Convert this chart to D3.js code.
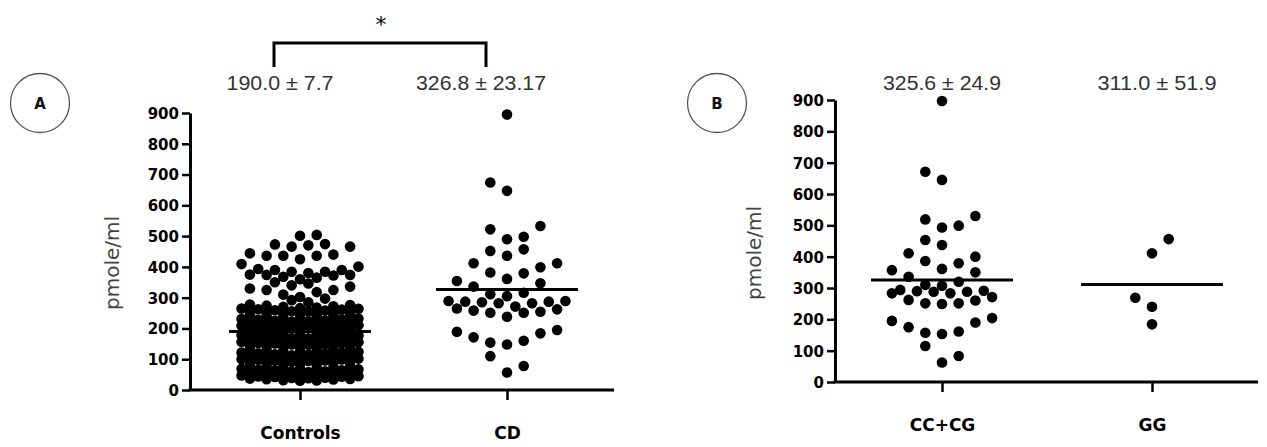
<!DOCTYPE html>
<html><head><meta charset="utf-8">
<script src="https://cdn.jsdelivr.net/npm/d3@7"></script>
<style>
html,body{margin:0;padding:0;background:#fff;}
svg{display:block;}
</style></head>
<body>
<svg id="chart" width="1267" height="447"></svg>
<script>
// ---------------- DATA ----------------
const categoriesA = ["Controls", "CD"];
const categoriesB = ["CC+CG", "GG"];
const yTicks = [0, 100, 200, 300, 400, 500, 600, 700, 800, 900];

const controls = [
  30,31,32,34,35,36,37, 38,39,40,42,43,44,45,47, 48,49,51,52,54,55,57,
  58,60,61,63,64,66,67,69, 70,72,73,75,77,79,81,
  84,85,86,88,89,90,91, 92,94,95,96,98,99,100,102, 103,105,106,108,109,111,112,
  113,115,116,118,119,121,122,124, 125,127,128,130,132,134,136,
  138,139,140,142,143,144,145, 147,148,149,151,152,153,155,156, 157,159,160,162,163,165,166,
  168,169,171,172,174,175,177,178, 180,181,183,185,187,189,190,
  192,193,194,196,197,198,199, 201,202,203,205,206,207,209,210, 211,213,214,216,217,219,220,
  222,223,225,226,228,229,231,232, 234,235,237,239,241,243,244,
  246,247,248,249,251,252,254, 255,256,258,259,261,262,264,265, 266,268,270,272,274,276,278,
  285,292,297,
  302,310,318,325,325,330,336,340,346,350,
  360,365,368,372,374,374,375,380,384,384,390,390,393,401,409,
  425,436,436,436,440,444,466,466,470,473,474,
  501,504
];
const cd = [895,674,647,522,533,490,498,452,457,436,412,412,399,382,379,361,354,347,336,
  311,305,316,289,289,285,282,271,282,287,287,265,258,251,238,251,254,262,
  189,171,154,148,160,184,195,110,78,57];
const ccg = [897,671,645,519,530,493,499,453,437,411,400,386,379,361,357,350,336,310,307,320,
  283,291,288,288,283,290,294,271,262,251,249,251,260,195,175,157,153,161,190,204,115,83,62];
const gg = [456,411,269,240,184];

const meansA = [190.0, 326.8];
const semA = ["7.7", "23.17"];
const meansB = [325.6, 311.0];
const semB = ["24.9", "51.9"];

// ---------------- LAYOUT ----------------
const svg = d3.select("#chart");
const SLOT = 16.7;   // horizontal spacing of scatter columns (px)
const BIN = 54;      // value height of one scatter row band
const R = 5.3;

// Prism-like column scatter: sorted values are grouped in bands of BIN units,
// each band is laid out in alternating rows of 7 (whole columns) and 8 (half columns),
// points spread centre-out, bands alternating which side is filled first.
function scatterLayout(values) {
  const sorted = values.slice().sort((a, b) => a - b);
  const bins = [];
  let cur = null;
  for (const v of sorted) {
    if (!cur || v >= cur.start + BIN) { cur = { start: v, items: [] }; bins.push(cur); }
    cur.items.push(v);
  }
  const out = [];
  bins.forEach((b, bi) => {
    const sign = bi % 2 === 0 ? 1 : -1;
    const n = b.items.length;
    const rows = [];
    if (n === 8) rows.push({ half: true, items: b.items });
    else {
      let i = 0, t = 0;
      while (i < n) {
        const size = t % 2 === 0 ? 7 : 8;
        rows.push({ half: t % 2 === 1, items: b.items.slice(i, i + size) });
        i += size; t++;
      }
    }
    rows.forEach(r => r.items.forEach((v, i) => {
      let k;
      if (r.half) { const j = Math.floor(i / 2); k = (j + 0.5) * (i % 2 === 0 ? sign : -sign); }
      else if (i === 0) k = 0;
      else { const j = Math.ceil(i / 2); k = j * (i % 2 === 1 ? sign : -sign); }
      out.push({ v, k });
    }));
  });
  return out;
}

function panel(cfg) {
  const g = svg.append("g");
  const y = d3.scaleLinear().domain([0, 900]).range([cfg.y0, cfg.y900]);
  const x = d3.scalePoint().domain(cfg.cats).range(cfg.catRange);

  // y axis
  const ya = g.append("g").attr("transform", `translate(${cfg.axisX},0)`)
    .call(d3.axisLeft(y).tickValues(yTicks).tickSize(8).tickPadding(3).tickSizeOuter(0));
  ya.select(".domain").attr("stroke", "#000").attr("stroke-width", 3);
  ya.selectAll(".tick line").attr("stroke", "#000").attr("stroke-width", 2.5);
  ya.selectAll(".tick text").attr("fill", "#000")
    .style("font-family", "'DejaVu Sans', sans-serif").style("font-weight", "bold")
    .style("font-size", "15px").attr("dy", "0.36em");

  // x axis
  g.append("line").attr("x1", cfg.axisX - 1.5).attr("x2", cfg.axisEnd)
    .attr("y1", y(0)).attr("y2", y(0)).attr("stroke", "#000").attr("stroke-width", 3);
  const xa = g.append("g").attr("transform", `translate(0,${y(0)})`)
    .call(d3.axisBottom(x).tickSize(10).tickPadding(27));
  xa.select(".domain").remove();
  xa.selectAll(".tick line").attr("stroke", "#000").attr("stroke-width", 2.5);
  xa.selectAll(".tick text").attr("fill", "#000")
    .style("font-family", "'DejaVu Sans', sans-serif").style("font-weight", "bold")
    .style("font-size", "17px");

  // y label
  g.append("text").attr("transform", `translate(${cfg.labelX},${cfg.labelY}) rotate(-90)`)
    .attr("text-anchor", "middle").attr("dominant-baseline", "middle")
    .style("font-family", "'DejaVu Sans', sans-serif").style("font-size", "20px")
    .attr("fill", "#444").text("pmole/ml");

  // points
  cfg.groups.forEach((vals, gi) => {
    const pts = scatterLayout(vals);
    g.append("g").selectAll("circle").data(pts).join("circle")
      .attr("cx", d => x(cfg.cats[gi]) + d.k * SLOT)
      .attr("cy", d => y(d.v)).attr("r", R).attr("fill", "#000");
  });

  // mean lines
  g.append("g").selectAll("line").data(cfg.means).join("line")
    .attr("x1", (d, i) => x(cfg.cats[i]) - 71).attr("x2", (d, i) => x(cfg.cats[i]) + 71)
    .attr("y1", d => y(d)).attr("y2", d => y(d))
    .attr("stroke", "#000").attr("stroke-width", 3);

  // mean ± sem labels
  g.append("g").selectAll("text").data(cfg.means).join("text")
    .attr("x", (d, i) => x(cfg.cats[i]) + cfg.labelShift[i]).attr("y", cfg.statY)
    .attr("text-anchor", "middle")
    .attr("textLength", (d, i) => cfg.statW[i]).attr("lengthAdjust", "spacingAndGlyphs")
    .style("font-family", "'Liberation Sans Narrow', 'Liberation Sans', Arial, sans-serif")
    .style("font-size", "20px").attr("fill", "#333")
    .text((d, i) => d.toFixed(1) + " \u00b1 " + cfg.sem[i]);

  // panel letter
  g.append("circle").attr("cx", cfg.circle[0]).attr("cy", cfg.circle[1]).attr("r", 29.5)
    .attr("fill", "none").attr("stroke", "#555").attr("stroke-width", 1.3);
  g.append("text").attr("x", cfg.circle[0]).attr("y", cfg.circle[1] + 5.5)
    .attr("text-anchor", "middle").style("font-family", "'DejaVu Sans', sans-serif")
    .style("font-weight", "bold").style("font-size", "15px").attr("fill", "#111")
    .text(cfg.letter);
  return { x, y, g };
}

const A = panel({
  cats: categoriesA, catRange: [300, 507], axisX: 190, axisEnd: 614,
  y0: 390, y900: 113, labelX: 113, labelY: 263,
  groups: [controls, cd],
  means: meansA, sem: semA, statY: 90, statW: [107, 130], labelShift: [-20, -26],
  circle: [40, 103], letter: "A"
});

const B = panel({
  cats: categoriesB, catRange: [942, 1152], axisX: 835, axisEnd: 1258,
  y0: 382, y900: 100, labelX: 755, labelY: 253,
  groups: [ccg, gg],
  means: meansB, sem: semB, statY: 90, statW: [118, 119], labelShift: [0, 5],
  circle: [717, 103], letter: "B"
});

// significance bracket
const bx1 = A.x("Controls") - 26, bx2 = A.x("CD") - 21;
svg.append("path")
  .attr("d", `M${bx1},67 V43 H${bx2} V67`)
  .attr("fill", "none").attr("stroke", "#000").attr("stroke-width", 3);
svg.append("text").attr("x", (bx1 + bx2) / 2 + 1).attr("y", 32)
  .attr("text-anchor", "middle").style("font-family", "'DejaVu Sans', sans-serif")
  .style("font-size", "22px").attr("fill", "#000").text("*");
</script>
</body></html>
